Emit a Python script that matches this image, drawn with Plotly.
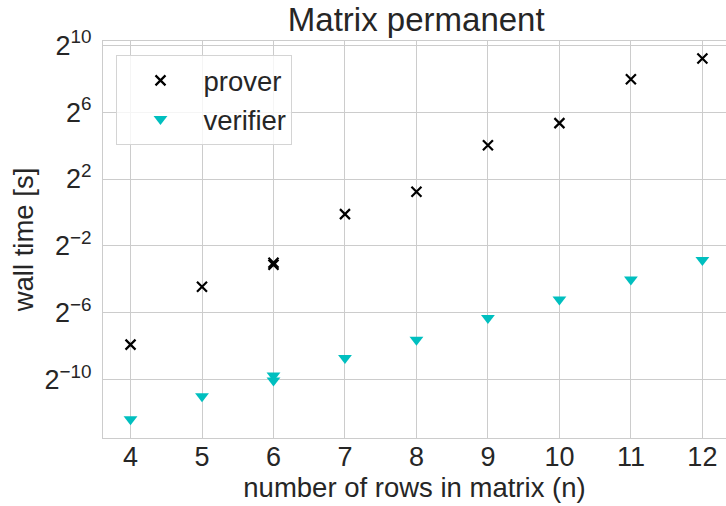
import plotly.graph_objects as go
import numpy as np

# data (wall time in seconds, read as log2 values from the picture)
prover_n = [4, 5, 6, 6, 7, 8, 9, 10, 11, 12]
prover_log2 = [-7.9, -4.44, -3.0, -3.12, -0.1, 1.24, 4.02, 5.34, 7.96, 9.2]
verifier_n = [4, 5, 6, 6, 7, 8, 9, 10, 11, 12]
verifier_log2 = [-12.36, -10.98, -9.75, -10.05, -8.7, -7.6, -6.3, -5.2, -4.0, -2.84]

prover_t = [2.0 ** v for v in prover_log2]
verifier_t = [2.0 ** v for v in verifier_log2]

ytick_pows = [-10, -6, -2, 2, 6, 10]
ytick_vals = [2.0 ** p for p in ytick_pows]
ytick_text = ["2<sup>%s</sup>" % (str(p).replace("-", "\u2212")) for p in ytick_pows]
xticks = [4, 5, 6, 7, 8, 9, 10, 11, 12]

FONT = "Liberation Sans, Arial, sans-serif"
TXT = "#262626"
GRID = "#cccccc"

fig = go.Figure()
fig.add_trace(go.Scatter(
    x=prover_n, y=prover_t, mode="markers", name="prover",
    marker=dict(symbol="x-thin", size=10, color="black",
                line=dict(width=2.2, color="black")),
))
fig.add_trace(go.Scatter(
    x=verifier_n, y=verifier_t, mode="markers", name="verifier",
    marker=dict(symbol="triangle-down", size=12, color="#00bfbf",
                line=dict(width=0)),
))

L, R, T, B = 102.5, 726, 41, 438.5
W, H = 726, 506
ylo, yhi = -13.48, 10.25
fig.update_layout(
    width=W, height=H,
    margin=dict(l=L, r=W - R, t=T, b=H - B, pad=0),
    paper_bgcolor="white", plot_bgcolor="white",
    font=dict(family=FONT, color=TXT, size=27),
    title=dict(text="Matrix permanent", x=(416 - L) / (R - L), xref="paper",
               xanchor="center", y=1 - 19 / H, yref="container", yanchor="middle",
               font=dict(size=33, color=TXT, family=FONT)),
    showlegend=True,
    legend=dict(x=(116 - L) / (R - L), y=1 - (55 - T) / (B - T),
                xanchor="left", yanchor="top",
                bgcolor="rgba(255,255,255,0.8)", bordercolor="#d4d4d4", borderwidth=1,
                font=dict(size=27.5, color=TXT, family=FONT),
                itemwidth=76, tracegroupgap=0),
    xaxis=dict(range=[3.615, 3.615 + (R - L) / 71.54], tickvals=xticks,
               ticktext=[str(v) for v in xticks],
               showgrid=True, gridcolor=GRID, gridwidth=1,
               showline=True, linecolor=GRID, linewidth=1.2, mirror=True,
               ticks="", ticklen=0, ticklabelstandoff=-6,
               tickfont=dict(size=27, color=TXT, family=FONT),
               title=dict(text="number of rows in matrix (n)", standoff=4,
                          font=dict(size=27.5, color=TXT, family=FONT)),
               zeroline=False, automargin=False),
    yaxis=dict(type="log", range=[ylo * np.log10(2), yhi * np.log10(2)],
               tickvals=ytick_vals, ticktext=ytick_text,
               showgrid=True, gridcolor=GRID, gridwidth=1,
               showline=True, linecolor=GRID, linewidth=1.2, mirror=False,
               ticks="outside", ticklen=5, tickcolor="rgba(0,0,0,0)",
               tickfont=dict(size=27, color=TXT, family=FONT),
               title=dict(text="wall time [s]", standoff=2,
                          font=dict(size=27.5, color=TXT, family=FONT)),
               zeroline=False, automargin=False),
)

fig.write_html("out.html", config={"displayModeBar": False})
with open("out.html", "r", encoding="utf-8") as f:
    html = f.read()
html = html.replace("<head>", "<head><style>html,body{margin:0;padding:0;overflow:hidden;}</style>", 1)
with open("out.html", "w", encoding="utf-8") as f:
    f.write(html)
